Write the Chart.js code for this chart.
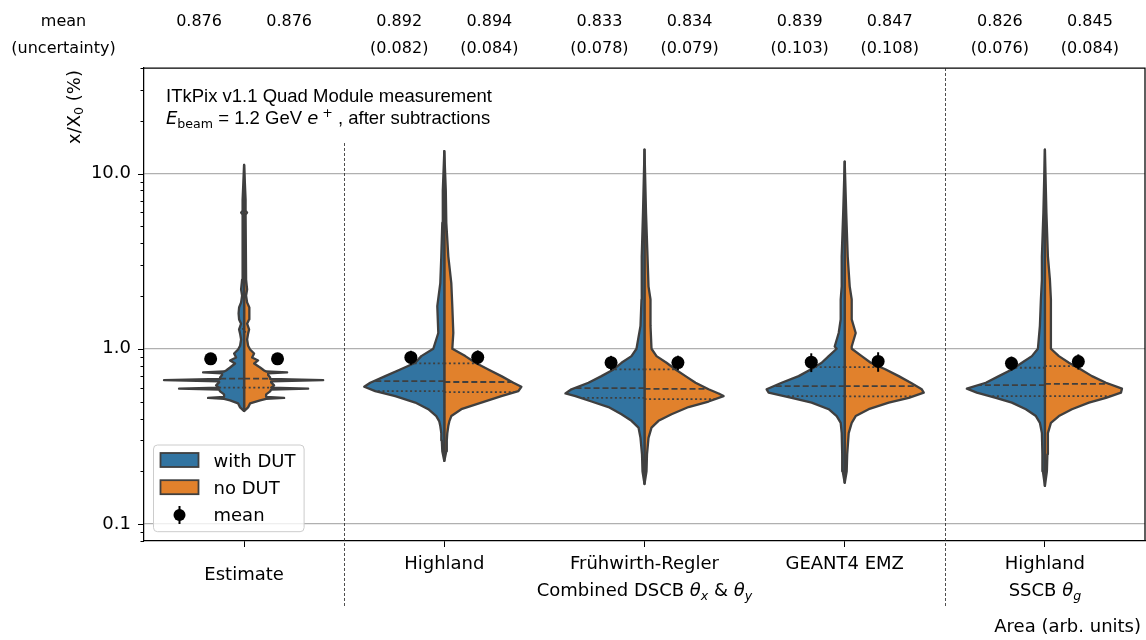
<!DOCTYPE html>
<html>
<head>
<meta charset="utf-8">
<script src="https://cdn.jsdelivr.net/npm/chart.js@4.4.1/dist/chart.umd.min.js"></script>
<style>
  html, body { margin: 0; padding: 0; background: #fff; overflow: hidden; }
  canvas { display: block; }
</style>
</head>
<body>
<canvas id="violins" width="1146" height="640"></canvas>
<script>
// ---- data ----
var categories = ['Estimate', 'Highland', 'Frühwirth-Regler', 'GEANT4 EMZ', 'Highland'];
var seriesNames = ['with DUT', 'no DUT'];
var groupLabels = [
  {from: 1, to: 3, text: 'Combined DSCB θ_x & θ_y'},
  {from: 4, to: 4, text: 'SSCB θ_g'}
];
var meanWith = [0.876, 0.892, 0.833, 0.839, 0.826];
var meanNo   = [0.876, 0.894, 0.834, 0.847, 0.845];
var uncWith  = [null, 0.082, 0.078, 0.103, 0.076];
var uncNo    = [null, 0.084, 0.079, 0.108, 0.084];
var yTicks = [0.08, 0.09, 0.1, 0.2, 0.3, 0.4, 0.5, 0.6, 0.7, 0.8, 0.9, 1, 2, 3, 4, 5, 6, 7, 8, 9, 10, 20, 30, 40];
var yMajor = [0.1, 1, 10];

// violin outlines: x/X0 levels (%) and half widths (area, arb. units)
var estLevels = [0.441, 0.463, 0.488, 0.508, 0.518, 0.524, 0.531, 0.549, 0.571, 0.584, 0.592, 0.600, 0.618, 0.643, 0.651, 0.662, 0.673, 0.686, 0.709, 0.723, 0.733, 0.742, 0.752, 0.782, 0.824, 0.858, 0.892, 0.940, 0.991, 1.04, 1.13, 1.22, 1.29, 1.39, 1.47, 1.59, 1.72, 1.84, 2.01, 2.18, 2.48, 5.83, 5.98, 6.14, 7.09, 11.2];
var estWith   = [0, 4, 6, 14, 20, 36, 20, 20, 24, 25, 65, 25, 28, 25, 25, 80, 24, 24, 22, 22, 41, 20, 18, 14, 9, 14, 8, 10, 6, 4, 3, 4, 5, 3, 5, 5.5, 5, 3, 2, 3, 2, 1.5, 3, 1.5, 1.5, 0];
var estNo     = [0, 4, 6, 16, 22, 40, 22, 22, 26, 27, 64, 27, 30, 27, 27, 79, 26, 26, 24, 24, 43, 22, 20, 16, 10, 14, 8, 10, 6, 4, 3, 4, 5, 3, 5, 5.5, 5, 3, 2, 3, 2, 1.5, 3, 1.5, 1.5, 0];

var hlLevels = [0.229, 0.26, 0.30, 0.33, 0.362, 0.385, 0.413, 0.452, 0.493, 0.537, 0.573, 0.607, 0.640, 0.698, 0.762, 0.832, 0.908, 1.0, 1.23, 1.75, 2.37, 3.37, 5.24, 8.0, 13.4];
var hlWith   = [0, 2, 2.5, 3, 4, 5, 8, 16, 29, 49, 69, 80, 74, 59, 44, 29, 23, 11, 6, 7, 4, 3, 2, 1.5, 0];
var hlNo     = [0, 2, 2.5, 3, 4, 5, 7, 17, 37, 57, 74, 77, 69, 57, 44, 31, 21, 8, 9, 8, 7, 4, 2, 1.5, 0];

var frLevels = [0.169, 0.2, 0.25, 0.31, 0.355, 0.388, 0.423, 0.465, 0.500, 0.537, 0.556, 0.587, 0.640, 0.698, 0.762, 0.832, 0.908, 1.0, 1.35, 1.91, 2.27, 3.37, 6.0, 13.7];
var frWith   = [0, 2, 2.5, 4, 6, 13, 23, 36, 53, 69, 79, 73, 56, 43, 31, 23, 13, 8, 4, 3, 3, 2.5, 1.5, 0];
var frNo     = [0, 2, 2.5, 4, 7, 14, 27, 44, 64, 79, 74, 64, 51, 41, 31, 22, 12, 7, 6, 6, 4, 3, 1.5, 0];

var g4Levels = [0.172, 0.2, 0.25, 0.33, 0.378, 0.413, 0.452, 0.493, 0.525, 0.562, 0.587, 0.640, 0.698, 0.762, 0.832, 0.908, 1.0, 1.03, 1.23, 1.47, 1.91, 2.27, 3.37, 6.0, 11.7];
var g4With   = [0, 2, 2.5, 3, 4, 8, 16, 33, 53, 76, 78, 63, 46, 34, 23, 16, 8, 10, 6, 4, 4, 3, 3, 1.5, 0];
var g4No     = [0, 2, 2.5, 4, 7, 11, 24, 44, 64, 79, 77, 66, 54, 41, 26, 17, 7, 7, 11, 7, 7, 5, 3, 1.5, 0];

var ssLevels = [0.165, 0.2, 0.25, 0.33, 0.378, 0.413, 0.452, 0.493, 0.525, 0.562, 0.592, 0.640, 0.698, 0.762, 0.832, 0.908, 1.0, 1.35, 1.91, 2.48, 3.37, 6.0, 13.7];
var ssWith   = [0, 2, 2.5, 3, 5, 9, 19, 33, 49, 68, 78, 59, 46, 33, 23, 13, 7, 5, 4, 3, 3, 1.5, 0];
var ssNo     = [0, 2, 2.5, 3, 6, 14, 27, 44, 61, 76, 77, 61, 47, 36, 24, 14, 6, 6, 6, 5, 3, 1.5, 0];

// quartiles [Q1, median, Q3]
var quartWith = [[0.600, 0.675, 1.30], [0.573, 0.654, 0.825], [0.524, 0.597, 0.762], [0.537, 0.612, 0.786], [0.537, 0.620, 0.779]];
var quartNo   = [[0.600, 0.675, 1.25], [0.566, 0.646, 0.825], [0.516, 0.590, 0.762], [0.535, 0.612, 0.786], [0.537, 0.630, 0.796]];

// ---- styling ----
var COL_WITH = '#3274a1', COL_NO = '#e1812c', EDGE = '#3f3f3f';
var AREA_TO_X = 1 / 200;   // category units per area unit
var MEAN_OFF = 0.167, HEAD_OFF = 0.225;
var F18 = '18px "DejaVu Sans"', I18 = 'italic 18px "DejaVu Sans"';
var S13 = '12.6px "DejaVu Sans"', IS13 = 'italic 12.6px "DejaVu Sans"';
var F16 = '16px "DejaVu Sans"', L18 = '18.5px "Liberation Sans"';

var violins = [
  {levels: estLevels, w: estWith, n: estNo},
  {levels: hlLevels, w: hlWith, n: hlNo},
  {levels: frLevels, w: frWith, n: frNo},
  {levels: g4Levels, w: g4With, n: g4No},
  {levels: ssLevels, w: ssWith, n: ssNo}
];

function isMajor(v) {
  return yMajor.some(function (m) { return Math.abs(m - v) < 1e-9; });
}

function halfShape(i, levels, widths, side) {
  var pts = [];
  for (var k = 0; k < levels.length; k++) {
    pts.push({x: i + side * widths[k] * AREA_TO_X, y: levels[k]});
  }
  pts.push({x: i, y: levels[0]});
  return pts;
}

function widthAt(levels, widths, q) {
  for (var k = 0; k < levels.length - 1; k++) {
    if (q >= levels[k] && q <= levels[k + 1]) {
      var t = (Math.log(q) - Math.log(levels[k])) / (Math.log(levels[k + 1]) - Math.log(levels[k]));
      return widths[k] + t * (widths[k + 1] - widths[k]);
    }
  }
  return 0;
}

var datasets = [];

// means
var meanPts = [];
meanWith.forEach(function (m, i) { meanPts.push({x: i - MEAN_OFF, y: m}); });
meanNo.forEach(function (m, i) { meanPts.push({x: i + MEAN_OFF, y: m}); });
datasets.push({
  label: 'mean', data: meanPts, pointRadius: 6.5, pointHoverRadius: 6.5,
  backgroundColor: '#000', borderWidth: 0, order: 0
});

// error bars
function errBar(x, m, u) {
  datasets.push({
    label: 'err', data: [{x: x, y: m - u}, {x: x, y: m + u}], showLine: true,
    borderColor: '#000', borderWidth: 2, pointRadius: 0, order: 1
  });
}
meanWith.forEach(function (m, i) { if (uncWith[i] != null) errBar(i - MEAN_OFF, m, uncWith[i]); });
meanNo.forEach(function (m, i) { if (uncNo[i] != null) errBar(i + MEAN_OFF, m, uncNo[i]); });

// quartile lines and violin halves
violins.forEach(function (v, i) {
  [[v.w, quartWith[i], -1, COL_WITH, seriesNames[0]], [v.n, quartNo[i], 1, COL_NO, seriesNames[1]]].forEach(function (h) {
    var widths = h[0], qs = h[1], side = h[2];
    qs.forEach(function (q, j) {
      var w = widthAt(v.levels, widths, q);
      datasets.push({
        label: 'quartile', data: [{x: i, y: q}, {x: i + side * w * AREA_TO_X, y: q}], showLine: true,
        borderColor: EDGE, borderWidth: 1.8, borderDash: j === 1 ? [6, 3] : [2, 2.6],
        pointRadius: 0, order: 2
      });
    });
    datasets.push({
      label: h[4], data: halfShape(i, v.levels, widths, side), showLine: true,
      fill: 'shape', backgroundColor: h[3], borderColor: EDGE, borderWidth: 2.3,
      borderJoinStyle: 'round', pointRadius: 0, tension: 0, order: 3
    });
  });
});

// ---- text helpers ----
function richWidth(c, segs) {
  var w = 0;
  segs.forEach(function (s) { c.font = s.f; w += c.measureText(s.t).width; });
  return w;
}
function drawRich(c, segs, x, y, align) {
  var w = richWidth(c, segs);
  var sx = align === 'center' ? x - w / 2 : (align === 'right' ? x - w : x);
  c.textAlign = 'left';
  c.textBaseline = 'alphabetic';
  segs.forEach(function (s) {
    c.font = s.f;
    c.fillText(s.t, sx, y + (s.dy || 0));
    sx += c.measureText(s.t).width;
  });
}
function mathSegs(str) {
  var segs = [], re = /θ_(\w)/g, last = 0, m;
  while ((m = re.exec(str)) !== null) {
    if (m.index > last) segs.push({t: str.slice(last, m.index), f: F18});
    segs.push({t: 'θ', f: I18});
    segs.push({t: m[1], f: IS13, dy: 3.5});
    last = re.lastIndex;
  }
  if (last < str.length) segs.push({t: str.slice(last), f: F18});
  return segs;
}

var overlay = {
  id: 'overlay',
  afterDraw: function (chart) {
    var c = chart.ctx, a = chart.chartArea, xs = chart.scales.x, ys = chart.scales.y;
    c.save();

    // top and right spines
    c.strokeStyle = '#000';
    c.lineWidth = 1.25;
    c.beginPath();
    c.moveTo(a.left, a.top); c.lineTo(a.right, a.top); c.lineTo(a.right, a.bottom);
    c.stroke();

    // y tick marks (major and minor)
    c.lineWidth = 1;
    yTicks.forEach(function (v) {
      var py = Math.round(ys.getPixelForValue(v)) + 0.5;
      var len = isMajor(v) ? 6 : 3.5;
      c.beginPath(); c.moveTo(a.left - len, py); c.lineTo(a.left, py); c.stroke();
    });

    // y axis label, top aligned
    c.save();
    c.fillStyle = '#000';
    c.translate(73, a.top + 2);
    c.rotate(-Math.PI / 2);
    var ylab = [{t: 'x/X', f: F18}, {t: '0', f: S13, dy: 3}, {t: ' (%)', f: F18}];
    drawRich(c, ylab, 0, 6.5, 'right');
    c.restore();

    // group separators
    c.strokeStyle = '#222';
    c.lineWidth = 0.8;
    c.setLineDash([3, 2]);
    groupLabels.forEach(function (g, gi) {
      var px = Math.round(xs.getPixelForValue(g.from - 0.5)) + 0.5;
      var top = gi === 0 ? a.top + 75 : a.top;
      c.beginPath(); c.moveTo(px, top); c.lineTo(px, a.bottom + 67); c.stroke();
    });
    c.setLineDash([]);

    // x category labels and group labels
    c.fillStyle = '#000';
    categories.forEach(function (name, i) {
      var inGroup = groupLabels.some(function (g) { return i >= g.from && i <= g.to; });
      drawRich(c, [{t: name, f: F18}], xs.getPixelForValue(i), inGroup ? a.bottom + 27.5 : a.bottom + 39, 'center');
    });
    groupLabels.forEach(function (g) {
      drawRich(c, mathSegs(g.text), xs.getPixelForValue((g.from + g.to) / 2), a.bottom + 55, 'center');
    });
    drawRich(c, [{t: 'Area (arb. units)', f: F18}], a.right - 4, a.bottom + 91, 'right');

    // header rows: means and uncertainties
    drawRich(c, [{t: 'mean', f: F16}], 63.5, 26, 'center');
    drawRich(c, [{t: '(uncertainty)', f: F16}], 63.5, 53, 'center');
    categories.forEach(function (name, i) {
      var xl = xs.getPixelForValue(i - HEAD_OFF), xr = xs.getPixelForValue(i + HEAD_OFF);
      drawRich(c, [{t: meanWith[i].toFixed(3), f: F16}], xl, 26, 'center');
      drawRich(c, [{t: meanNo[i].toFixed(3), f: F16}], xr, 26, 'center');
      if (uncWith[i] != null) drawRich(c, [{t: '(' + uncWith[i].toFixed(3) + ')', f: F16}], xl, 53, 'center');
      if (uncNo[i] != null) drawRich(c, [{t: '(' + uncNo[i].toFixed(3) + ')', f: F16}], xr, 53, 'center');
    });

    // annotation
    drawRich(c, [{t: 'ITkPix v1.1 Quad Module measurement', f: L18}], a.left + 22, a.top + 33.5, 'left');
    drawRich(c, [
      {t: 'E', f: I18}, {t: 'beam', f: S13, dy: 4},
      {t: ' = 1.2 GeV ', f: L18},
      {t: 'e', f: I18}, {t: ' +', f: S13, dy: -7},
      {t: ' , after subtractions', f: L18}
    ], a.left + 22, a.top + 55.5, 'left');

    // legend
    var lx = a.left + 9, ly = a.bottom - 96.5, lw = 150.6, lh = 86.7;
    c.beginPath();
    c.roundRect(lx + 0.5, ly + 0.5, lw, lh, 4);
    c.fillStyle = 'rgba(255,255,255,0.8)';
    c.fill();
    c.strokeStyle = '#cccccc';
    c.lineWidth = 1;
    c.stroke();
    [[COL_WITH, 8.5], [COL_NO, 35.7]].forEach(function (p) {
      c.fillStyle = p[0];
      c.fillRect(lx + 7.5, ly + p[1], 38, 14);
      c.strokeStyle = EDGE;
      c.lineWidth = 1.8;
      c.strokeRect(lx + 7.5, ly + p[1], 38, 14);
    });
    c.strokeStyle = '#000';
    c.lineWidth = 2;
    c.beginPath(); c.moveTo(lx + 26.5, ly + 61.5); c.lineTo(lx + 26.5, ly + 79.5); c.stroke();
    c.fillStyle = '#000';
    c.beginPath(); c.arc(lx + 26.5, ly + 70.5, 6, 0, Math.PI * 2); c.fill();
    drawRich(c, [{t: seriesNames[0], f: F18}], lx + 60.5, ly + 22, 'left');
    drawRich(c, [{t: seriesNames[1], f: F18}], lx + 60.5, ly + 49, 'left');
    drawRich(c, [{t: 'mean', f: F18}], lx + 60.5, ly + 76, 'left');

    c.restore();
  }
};

function noPad(s) {
  s.paddingLeft = 0; s.paddingRight = 0; s.paddingTop = 0; s.paddingBottom = 0;
}

var ctx = document.getElementById('violins').getContext('2d');
var violinChart = new Chart(ctx, {
  type: 'scatter',
  data: {datasets: datasets},
  options: {
    responsive: false,
    animation: false,
    devicePixelRatio: 1,
    layout: {autoPadding: false, padding: {top: 68, right: 1, left: 0, bottom: 0}},
    plugins: {legend: {display: false}, tooltip: {enabled: false}},
    scales: {
      x: {
        type: 'linear', min: -0.5, max: 4.5,
        afterFit: function (s) { s.height = 99; noPad(s); },
        afterBuildTicks: function (s) { s.ticks = categories.map(function (c, i) { return {value: i}; }); },
        ticks: {display: false},
        grid: {drawOnChartArea: false, color: '#000', tickColor: '#000', tickLength: 6, tickWidth: 1},
        border: {color: '#000', width: 1.25}
      },
      y: {
        type: 'logarithmic', min: 0.08, max: 40,
        afterFit: function (s) { s.width = 144; noPad(s); },
        afterBuildTicks: function (s) { s.ticks = yTicks.map(function (v) { return {value: v}; }); },
        ticks: {
          autoSkip: false, padding: 13, color: '#000',
          font: {family: 'DejaVu Sans', size: 18},
          callback: function (v) { return isMajor(v) ? v.toFixed(1) : ''; }
        },
        grid: {
          drawTicks: false, lineWidth: 1.3,
          color: function (c) { return c.tick && isMajor(c.tick.value) ? '#b0b0b0' : 'rgba(0,0,0,0)'; }
        },
        border: {color: '#000', width: 1.25}
      }
    }
  },
  plugins: [overlay]
});
</script>
</body>
</html>
